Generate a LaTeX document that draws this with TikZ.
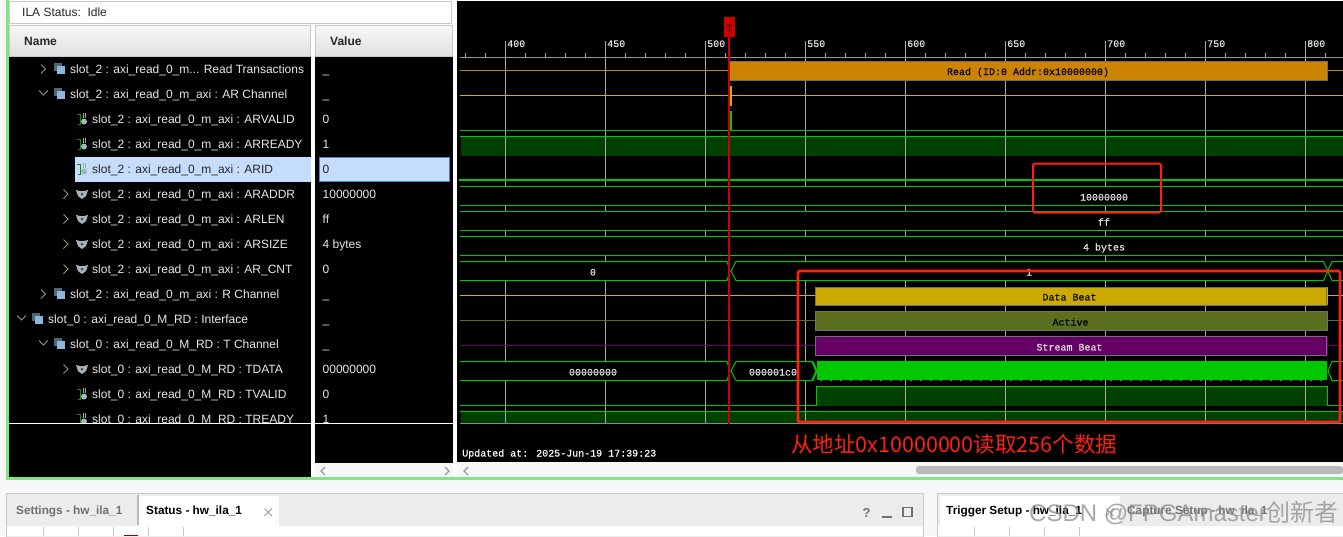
\documentclass[tikz,border=0pt]{standalone}
\usepackage{fontspec}
\setmainfont{Liberation Sans}
\newfontfamily\cjkf{Noto Sans CJK SC}
\newfontfamily\wavef[FakeBold=0.35]{Liberation Mono}
\definecolor{pagebg}{HTML}{F7F7F7}
\definecolor{tabbg}{HTML}{ECECEC}
\definecolor{edge}{HTML}{C8C8C8}
\definecolor{frameg}{HTML}{80E680}
\definecolor{sel}{HTML}{C6DCFB}
\definecolor{selb}{HTML}{4A86C0}
\definecolor{rowtxt}{HTML}{E8E8E8}
\definecolor{wavetxt}{HTML}{E0E0E0}
\definecolor{gridc}{HTML}{A8A8A8}
\definecolor{sig}{HTML}{00C800}
\definecolor{darksig}{HTML}{004000}
\definecolor{orangeb}{HTML}{CC8400}
\definecolor{yellowb}{HTML}{CCAA00}
\definecolor{yellowl}{HTML}{C8B400}
\definecolor{oliveb}{HTML}{5A7020}
\definecolor{purpleb}{HTML}{660066}
\definecolor{barb}{HTML}{707070}
\definecolor{cursor}{HTML}{CC0000}
\definecolor{anno}{HTML}{FF2010}
\definecolor{iconb}{HTML}{8AB8DC}
\definecolor{icond}{HTML}{4F6675}
\definecolor{icong}{HTML}{A8B4BC}
\definecolor{tabgray}{HTML}{707070}
\tikzset{
  txt/.style={inner sep=0pt,anchor=base west,font=\fontsize{12}{14}\selectfont},
  rowlabel/.style={txt,text=rowtxt},
  hdr/.style={txt,font=\fontsize{12}{14}\selectfont\bfseries,text=black!85},
  tabtext/.style={txt,font=\fontsize{11.8}{14}\selectfont\bfseries},
  wave/.style={inner sep=0pt,anchor=base,font=\fontsize{10}{12}\selectfont\wavef,text=wavetxt},
  ruler/.style={inner sep=0pt,anchor=base west,font=\fontsize{10}{12}\selectfont\wavef,text=wavetxt},
  headbox/.style={draw=edge,line width=1pt,top color=pagebg,bottom color=black!12},
  barbox/.style={draw=barb,line width=1pt},
  sigline/.style={draw=sig,line width=1pt},
  annobox/.style={draw=anno,rounded corners=1.5pt},
}
\newcommand{\chevr}[2]{\draw[gray!85,line width=1pt] (#1-2.5,#2-4.5) -- (#1+2,#2) -- (#1-2.5,#2+4.5);}
\newcommand{\chevd}[2]{\draw[gray!85,line width=1pt] (#1-4.5,#2-2.5) -- (#1,#2+2) -- (#1+4.5,#2-2.5);}
\newcommand{\grpicon}[2]{
  \fill[icond] (#1,#2-6) rectangle (#1+8,#2+2);
  \fill[iconb] (#1+3,#2-3) rectangle (#1+11,#2+5);}
\newcommand{\sigicon}[2]{
  \draw[green!60!black,line width=1pt] (#1,#2-5) -- (#1+3,#2-5) -- (#1+3,#2+5) -- (#1+1,#2+5);
  \draw[gray!70,line width=1pt] (#1+6,#2-6) -- (#1+6,#2-1);
  \draw[gray!70,line width=1pt] (#1+8.5,#2-6) -- (#1+8.5,#2-1);
  \fill[icong] (#1+7,#2+2.5) circle (3);}
\newcommand{\busicon}[2]{
  \fill[icong] (#1,#2-4) -- (#1+4,#2-3) -- (#1+8,#2-3) -- (#1+12,#2-4) -- (#1+10,#2+2) -- (#1+6,#2+5) -- (#1+2,#2+2) -- cycle;
  \fill[black!70] (#1+6,#2) circle (1.5);}
\begin{document}
\begin{tikzpicture}[x=1pt,y=-1pt]
\useasboundingbox (0,0) rectangle (1343,536);
\fill[pagebg] (0,0) rectangle (1343,536);
% main frame
\fill[frameg] (6,0) rectangle (9,480);
\fill[frameg] (6,477) rectangle (1343,480);
\fill[white] (9,0) rectangle (1343,477);
% status box
\draw[edge,fill=white,line width=1pt] (9.5,1.5) rectangle (451.5,23);
\node[txt,text=black!85] (status) at (22,16.5) {ILA Status:\ \ Idle};
% headers
\draw[headbox] (9.5,25.5) rectangle (310.5,56);
\draw[headbox] (315.5,25.5) rectangle (452.5,56);
\node[hdr] (hname) at (24,45) {Name};
\node[hdr] (hvalue) at (330,45) {Value};
% name / value panels
\fill[black] (9,57) rectangle (311,477);
\fill[black] (315,57) rectangle (453,463);
\fill[sel] (75,157) rectangle (311,182);
\draw[selb,fill=sel,line width=1pt] (319.5,157.5) rectangle (449,181.5);
\begin{scope}
\clip (9,57) rectangle (311,423);
\foreach \yy/\xx/\tt [count=\n] in {
  73/70/{slot\_2 : axi\_read\_0\_m... Read Transactions},
  98/70/{slot\_2 : axi\_read\_0\_m\_axi : AR Channel},
  123/92/{slot\_2 : axi\_read\_0\_m\_axi : ARVALID},
  148/92/{slot\_2 : axi\_read\_0\_m\_axi : ARREADY},
  198/92/{slot\_2 : axi\_read\_0\_m\_axi : ARADDR},
  223/92/{slot\_2 : axi\_read\_0\_m\_axi : ARLEN},
  248/92/{slot\_2 : axi\_read\_0\_m\_axi : ARSIZE},
  273/92/{slot\_2 : axi\_read\_0\_m\_axi : AR\_CNT},
  298/70/{slot\_2 : axi\_read\_0\_m\_axi : R Channel},
  323/48/{slot\_0 : axi\_read\_0\_M\_RD : Interface},
  348/70/{slot\_0 : axi\_read\_0\_M\_RD : T Channel},
  373/92/{slot\_0 : axi\_read\_0\_M\_RD : TDATA},
  398/92/{slot\_0 : axi\_read\_0\_M\_RD : TVALID},
  423/92/{slot\_0 : axi\_read\_0\_M\_RD : TREADY}}
  {\node[rowlabel] (row\n) at (\xx,\yy) {\tt};}
\node[txt,text=black!85] (rowsel) at (92,173) {slot\_2 : axi\_read\_0\_m\_axi : ARID};
\chevr{43.5}{69}\grpicon{54}{69}
\chevd{43.5}{93}\grpicon{54}{94}
\sigicon{77}{119}\sigicon{77}{144}\sigicon{77}{169}
\chevr{66}{194}\busicon{76}{194}
\chevr{66}{219}\busicon{76}{219}
\chevr{66}{244}\busicon{76}{244}
\chevr{66}{269}\busicon{76}{269}
\chevr{43.5}{294}\grpicon{54}{294}
\chevd{21.5}{318}\grpicon{32}{319}
\chevd{43.5}{343}\grpicon{54}{344}
\chevr{66}{369}\busicon{76}{369}
\sigicon{77}{394}\sigicon{77}{419}
\end{scope}
\begin{scope}
\clip (315,57) rectangle (453,423);
\foreach \yy/\tt [count=\n] in {
  73/\_, 98/\_, 123/0, 148/1, 198/10000000, 223/ff, 248/4 bytes, 273/0,
  298/\_, 323/\_, 348/\_, 373/00000000, 398/0, 423/1}
  {\node[rowlabel] (val\n) at (322.5,\yy) {\tt};}
\node[txt,text=black!85] (valsel) at (322.5,173) {0};
\end{scope}
\fill[white] (9,423) rectangle (311,424);
\fill[white] (315,423) rectangle (453,424);
% value scrollbar
\fill[pagebg] (315,463) rectangle (453,477);
\draw[gray!80,line width=1.2pt] (325,467) -- (321,471) -- (325,475);
\draw[gray!80,line width=1.2pt] (445,467) -- (449,471) -- (445,475);
% waveform area
\fill[black] (457,1) rectangle (1343,462);
\fill[pagebg] (457,462) rectangle (1343,477);
\fill[gray!55,rounded corners=3pt] (916,466) rectangle (1343,474);
\draw[gray!80,line width=1.4pt] (468,467) -- (464,471) -- (468,475);
% dark signal fills
\fill[darksig] (461,137) rectangle (1343,156);
\fill[darksig] (461,411.5) rectangle (1343,423);
\fill[darksig] (816,386.5) rectangle (1327,405.5);
% grid
\foreach \g in {505.5,605.5,705.5,805.5,905.5,1005.5,1105.5,1205.5,1305.5}
  \draw[gridc,line width=1pt] (\g,41) -- (\g,423);
% bus row masks
\fill[black] (459,186.5) rectangle (1343,205);
\fill[black] (459,211.5) rectangle (1343,230);
\fill[black] (459,236.5) rectangle (1343,255);
\fill[black] (459,261.5) rectangle (1343,280);
\fill[black] (459,361.5) rectangle (1343,380);
% ruler
\draw[gridc!120,line width=1pt] (460,57.5) -- (1343,57.5);
\foreach \m in {465.5,485.5,525.5,545.5,565.5,585.5,625.5,645.5,665.5,685.5,725.5,745.5,765.5,785.5,825.5,845.5,865.5,885.5,925.5,945.5,965.5,985.5,1025.5,1045.5,1065.5,1085.5,1125.5,1145.5,1165.5,1185.5,1225.5,1245.5,1265.5,1285.5,1325.5}
  \draw[gridc,line width=1pt] (\m,53) -- (\m,57);
\node[ruler] (r400) at (507,47) {400};
\node[ruler] (r450) at (607,47) {450};
\node[ruler] (r500) at (707,47) {500};
\node[ruler] (r550) at (807,47) {550};
\node[ruler] (r600) at (907,47) {600};
\node[ruler] (r650) at (1007,47) {650};
\node[ruler] (r700) at (1107,47) {700};
\node[ruler] (r750) at (1207,47) {750};
\node[ruler] (r800) at (1307,47) {800};
\draw[gray!90,line width=1pt] (460,423.5) -- (1343,423.5);
% thin coloured signal lines
\draw[orangeb,line width=1pt] (460,70.5) -- (1343,70.5);
\draw[yellowl,line width=1pt] (460,95.5) -- (1343,95.5);
\draw[yellowl,line width=1pt] (460,295.5) -- (1343,295.5);
\draw[oliveb,line width=1pt] (460,320.5) -- (1343,320.5);
\draw[purpleb,line width=1pt] (460,345.5) -- (1343,345.5);
% single-bit signals
\fill[yellowl] (730,86) rectangle (732,106);
\fill[sig] (730,111) rectangle (732,130);
\draw[sigline] (460,130.5) -- (1343,130.5);
\draw[sigline,line width=1.2pt] (460,136.5) -- (1343,136.5);
\draw[sig,line width=2pt] (459,180) -- (1343,180);
\draw[sigline] (460,411.5) -- (1343,411.5);
\draw[sigline] (460,405.5) -- (816,405.5) -- (816,386.5) -- (1327,386.5) -- (1327,405.5) -- (1343,405.5);
% bus rows
\foreach \ya/\yb in {186.5/205.5,211.5/230.5,236.5/255.5}
  {\draw[sigline] (460,\ya) -- (1343,\ya);
   \draw[sigline] (460,\yb) -- (1343,\yb);}
\draw[sigline] (460,261.5) -- (727,261.5) -- (730,271) -- (727,280.5) -- (460,280.5);
\draw[sigline] (1343,261.5) -- (1332,261.5) -- (1323.5,280.5) -- (736,280.5) -- (731,271) -- (736,261.5) -- (1323.5,261.5) -- (1332,280.5) -- (1343,280.5);
\draw[sigline] (460,361.5) -- (727,361.5) -- (730,371) -- (727,380.5) -- (460,380.5);
\draw[sigline] (812,361.5) -- (736,361.5) -- (731,371) -- (736,380.5) -- (812,380.5) -- (816.5,371) -- cycle;
\draw[sigline] (812,380.5) -- (816,371) -- (812,361.5);
\draw[sigline] (1343,361.5) -- (1332,361.5) -- (1328,371) -- (1332,380.5) -- (1343,380.5);
\fill[sig] (817,361) rectangle (1327,379.5);
\foreach \d in {820,830,...,1320}
  \fill[sig] (\d,379) rectangle (\d+2,381);
\draw[sigline] (813,361.5) -- (817,371) -- (813,380.5);
% transaction bars
\fill[yellowb] (1326,287) rectangle (1328,305);
\fill[purpleb] (1326,336) rectangle (1328,355);
\draw[barb,line width=1pt,fill=orangeb] (729.5,61.5) rectangle (1327.5,80);
\draw[barb,line width=1pt,fill=yellowb] (815.5,287) rectangle (1326,305.5);
\draw[barb,line width=1pt,fill=oliveb] (815.5,311.5) rectangle (1327.5,330);
\draw[barb,line width=1pt,fill=purpleb] (815.5,336.5) rectangle (1326,355);
\node[wave,text=black] (read) at (1028,75) {Read (ID:0 Addr:0x10000000)};
\node[wave,text=black] (dbeat) at (1069.5,300.5) {Data Beat};
\node[wave,text=black] (active) at (1070.5,325.5) {Active};
\node[wave] (sbeat) at (1069.5,350.5) {Stream Beat};
\node[wave] (vaddr) at (1104,200.5) {10000000};
\node[wave] (vlen) at (1104,225.5) {ff};
\node[wave] (vsize) at (1104,250.5) {4 bytes};
\node[wave] (vcnt0) at (593,275.5) {0};
\node[wave] (vcnt1) at (1029,275.5) {1};
\node[wave] (vd0) at (593,375.5) {00000000};
\node[wave] (vd1) at (773,375.5) {000001c0};
\node[ruler,text=white] (updated) at (462,456.5) {Updated at: 2025-Jun-19 17:39:23};
% cursor
\draw[cursor,line width=2pt] (729,30) -- (729,423.5);
\fill[cursor] (724,17) rectangle (735,37);
\node[wave,text=black,font=\fontsize{10}{10}\selectfont\wavef] (tflag) at (729.5,31.5) {T};
% annotations
\draw[annobox,line width=2pt] (1033,163.5) rectangle (1161,212.5);
\draw[annobox,line width=2.7pt] (798,271) rectangle (1340,422);
\node[inner sep=0pt,anchor=base west,text=anno,font=\fontsize{21.5}{24}\selectfont\cjkf] (note) at (791,452.5) {从地址0x10000000读取256个数据};
% bottom panels
\draw[edge,fill=tabbg,line width=1pt] (6.5,493.5) rectangle (923.5,540);
\fill[white] (7,526) rectangle (923,536);
\fill[edge!80!gray] (137,495) rectangle (139,525);
\fill[white] (139,496) rectangle (279,526);
\node[tabtext,text=tabgray] (tabset) at (16,514) {Settings - hw\_ila\_1};
\node[tabtext,text=black] (tabstat) at (146,514) {Status - hw\_ila\_1};
\draw[gray!80,line width=1pt] (264.5,508.5) -- (272,516);
\draw[gray!80,line width=1pt] (272,508.5) -- (264.5,516);
\node[tabtext,text=tabgray,font=\fontsize{13}{14}\selectfont\bfseries] (qmark) at (862.5,517) {?};
\draw[tabgray,line width=1.4pt] (882,517) -- (892,517);
\draw[tabgray,line width=1.4pt] (903,507.5) rectangle (912,516.5);
\foreach \s in {43.5,78.5,113.5,148.5,183.5}
  \draw[edge,line width=1pt] (\s,527) -- (\s,536);
\fill[red!60!black] (124,535) rectangle (138,536);
\draw[edge,fill=tabbg,line width=1pt] (937.5,493.5) rectangle (1350,540);
\fill[white] (940,496) rectangle (1120,526);
\fill[white] (938,526) rectangle (1343,536);
\node[tabtext,text=black] (tabtrig) at (946,514) {Trigger Setup - hw\_ila\_1};
\node[tabtext,text=tabgray] (tabcap) at (1127,514) {Capture Setup - hw\_ila\_1};
\draw[gray!80,line width=1pt] (1106,508.5) -- (1113.5,516);
\draw[gray!80,line width=1pt] (1113.5,508.5) -- (1106,516);
\foreach \s in {974.5,1009.5,1044.5,1079.5}
  \draw[edge,line width=1pt] (\s,527) -- (\s,536);
% watermark
\node[inner sep=0pt,anchor=base west,text=gray!90,opacity=.75,font=\fontsize{24}{26}\selectfont] (mark) at (1029,521.5) {CSDN @FPGAmaster{\cjkf 创新者}};
\end{tikzpicture}
\end{document}
